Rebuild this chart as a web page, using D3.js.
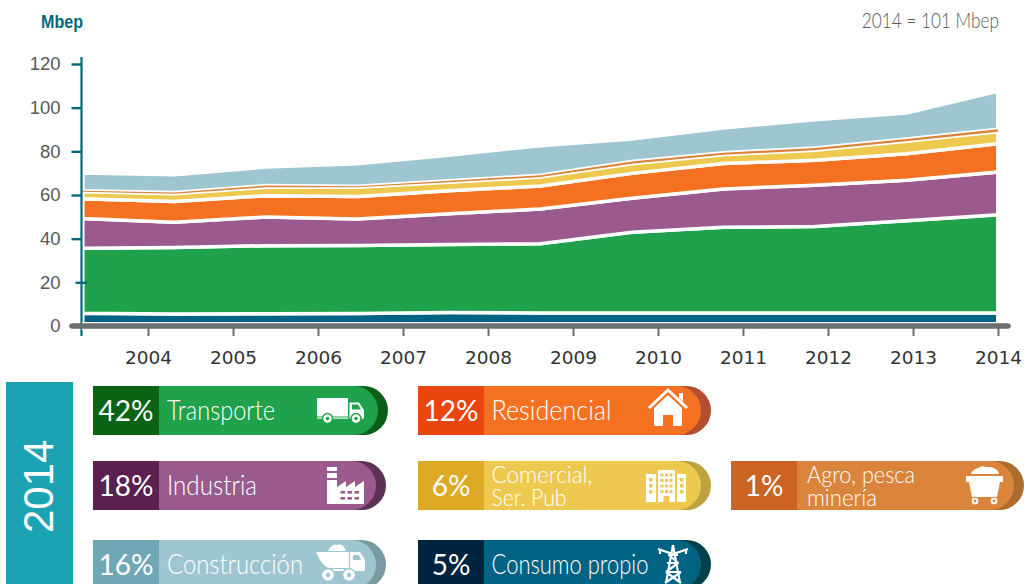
<!DOCTYPE html>
<html lang="es">
<head>
<meta charset="utf-8">
<title>Consumo final de energía por sector</title>
<script src="https://cdn.jsdelivr.net/npm/d3@7"></script>
<style>
  html, body { margin: 0; background: #fff; }
  svg { display: block; }
  .axis--y text { font-family: "Liberation Sans", sans-serif; font-size: 18.5px; }
  .axis--x text { font-family: "DejaVu Sans", sans-serif; font-size: 18.5px; }
  .legend-label { font-family: Lato, sans-serif; font-weight: 300; fill: #fff; }
  .legend-share { font-family: Lato, sans-serif; font-weight: 400; font-size: 28px; fill: #fff; text-anchor: middle; }
</style>
</head>
<body>
<div id="chart"></div>
<script>
// Final energy use by sector, stacked from the bottom of the chart upward.
const years = [2004, 2005, 2006, 2007, 2008, 2009, 2010, 2011, 2012, 2013, 2014];
const consumoPropio = [5.8, 5.5, 5.6, 5.7, 6.2, 6.0, 5.9, 5.9, 5.9, 5.9, 5.9];
const transporte = [29.8, 30.4, 31.2, 31.2, 31.1, 31.7, 37.0, 39.3, 39.7, 42.3, 45.0];
const industria = [13.6, 11.6, 13.1, 12.1, 14.1, 15.9, 15.6, 17.6, 18.9, 18.6, 19.6];
const residencial = [9.1, 9.5, 9.8, 10.3, 10.6, 10.5, 11.4, 11.6, 11.4, 12.1, 13.0];
const comercial = [3.2, 3.6, 3.8, 4.2, 3.8, 4.1, 4.4, 4.0, 4.6, 5.7, 5.5];
const agro = [0.5, 0.5, 0.8, 0.5, 0.7, 0.9, 1.0, 1.0, 1.0, 1.0, 1.1];
const construccion = [8.1, 8.2, 8.5, 10.3, 11.7, 13.5, 10.4, 11.3, 13.0, 12.0, 17.4];
const yTicks = [0, 20, 40, 60, 80, 100, 120];

const seriesKeys = ['consumo', 'transporte', 'industria', 'residencial', 'comercial', 'agro', 'construccion'];
const seriesValues = [consumoPropio, transporte, industria, residencial, comercial, agro, construccion];
const seriesColors = ['#006384', '#20a14b', '#9a5a8e', '#f57122', '#edc94f', '#da843c', '#9ec6d1'];

// Legend, in reading order (column by column).
const legendKeys = ['transporte', 'industria', 'construccion', 'residencial', 'comercial', 'consumo', 'agro'];
const legendLabels = [['Transporte'], ['Industria'], ['Construcción'], ['Residencial'], ['Comercial,', 'Ser. Pub'], ['Consumo propio'], ['Agro, pesca', 'minería']];
const legendShares = ['42%', '18%', '16%', '12%', '6%', '5%', '1%'];
const legendDark = ['#0a6414', '#5a2150', '#6fa7b5', '#e8450f', '#deaa26', '#00233f', '#cb6423'];
const legendRim = ['#0a5e1a', '#5d3156', '#789aa3', '#b14f30', '#bda33f', '#054149', '#ac6c2e'];

const width = 1024, height = 584;
const svg = d3.select('#chart').append('svg').attr('width', width).attr('height', height);

const table = years.map((year, i) => {
  const row = {year};
  seriesKeys.forEach((key, k) => { row[key] = seriesValues[k][i]; });
  return row;
});
const stacked = d3.stack().keys(seriesKeys)(table);

// The areas and the year ticks do not line up in the original, so each has its own scale.
const xArea = d3.scalePoint().domain(years).range([82.8, 997.8]);
const xTick = d3.scalePoint().domain(years).range([148, 998]);
const y = d3.scaleLinear().domain([0, 120]).range([326, 64]);
const color = d3.scaleOrdinal(seriesKeys, seriesColors);

const area = d3.area()
  .x(d => xArea(d.data.year))
  .y0(d => y(d[0]))
  .y1(d => y(d[1]));

// White outlines make the gaps between the bands.
svg.append('g').selectAll('path')
  .data(stacked.filter(d => d.key !== 'agro'))
  .join('path')
  .attr('d', area)
  .attr('fill', d => color(d.key))
  .attr('stroke', '#fff')
  .attr('stroke-width', 3.5);

// The agro band is too thin for an outline, it goes on top without one.
svg.append('path')
  .datum(stacked.find(d => d.key === 'agro'))
  .attr('d', area)
  .attr('fill', color('agro'));

// Y axis
const yAxis = svg.append('g').attr('class', 'axis axis--y')
  .attr('transform', 'translate(81.5,0)')
  .call(d3.axisLeft(y).tickValues(yTicks).tickSize(10).tickPadding(11).tickSizeOuter(0));
yAxis.select('.domain').remove();
yAxis.selectAll('line').attr('stroke', '#006b7b').attr('stroke-width', 2.4);
yAxis.selectAll('text').attr('fill', '#58595b');
// The 20 tick sits a little to the right in the original.
yAxis.selectAll('.tick').filter(d => d === 20).select('line').attr('x1', -6).attr('x2', 5.5);
svg.append('line').attr('x1', 81.5).attr('x2', 81.5).attr('y1', 57).attr('y2', 336)
  .attr('stroke', '#006b7b').attr('stroke-width', 2.2);

// X axis
svg.append('line').attr('x1', 82).attr('x2', 1000).attr('y1', 326).attr('y2', 326)
  .attr('stroke', '#fff').attr('stroke-width', 8);
svg.append('line').attr('x1', 72).attr('x2', 1008).attr('y1', 326).attr('y2', 326)
  .attr('stroke', '#6d6e71').attr('stroke-width', 5.5).attr('stroke-linecap', 'round');
const xAxis = svg.append('g').attr('class', 'axis axis--x')
  .attr('transform', 'translate(0,326)')
  .call(d3.axisBottom(xTick).tickSize(10).tickPadding(15).tickSizeOuter(0));
xAxis.select('.domain').remove();
xAxis.selectAll('line').attr('stroke', '#6d6e71').attr('stroke-width', 2);
xAxis.selectAll('text').attr('fill', '#333');

// Header notes
svg.append('text').attr('transform', 'translate(41,28) scale(0.92,1)')
  .attr('font-family', '"Liberation Sans", sans-serif').attr('font-weight', 700).attr('font-size', 17.5)
  .attr('fill', '#006b7b').text('Mbep');
svg.append('text').attr('transform', 'translate(999,28) scale(0.82,1)').attr('text-anchor', 'end')
  .attr('font-family', 'Lato, sans-serif').attr('font-weight', 300).attr('font-size', 21)
  .attr('fill', '#58595b').text('2014 = 101 Mbep');

// Year banner
svg.append('rect').attr('x', 6).attr('y', 382).attr('width', 67).attr('height', 202).attr('fill', '#1ca3b3');
svg.append('text').attr('transform', 'translate(53,533) rotate(-90)')
  .attr('font-family', '"Liberation Sans", sans-serif').attr('font-size', 42).attr('fill', '#fff').text('2014');

// Pill slots: [left, top, right end, label inset], same order as the legend arrays.
const slots = [[93, 386, 388, 74], [93, 461, 386, 74], [93, 540, 386, 74], [418, 386, 711, 73.5], [418, 461, 711, 73.5], [418, 540, 711, 73.5], [731, 461, 1024, 76]];
// Drawn width of each label line, the original type is narrower than anything installed.
const labelWidths = [[108], [90], [136], [120], [101, 75], [157], [108, 70]];
const pillH = 49, darkW = 66, rimW = 10;

function pillPath(x0, x1, top) {
  const r = pillH / 2;
  return `M${x0},${top}H${x1 - r}A${r},${r} 0 0 1 ${x1 - r},${top + pillH}H${x0}Z`;
}

const pills = svg.append('g').selectAll('g')
  .data(legendKeys)
  .join('g')
  .attr('class', 'pill');

pills.append('path').attr('d', (d, i) => pillPath(slots[i][0] + darkW, slots[i][2], slots[i][1])).attr('fill', (d, i) => legendRim[i]);
pills.append('path').attr('d', (d, i) => pillPath(slots[i][0] + darkW, slots[i][2] - rimW, slots[i][1])).attr('fill', d => color(d));
pills.append('rect')
  .attr('x', (d, i) => slots[i][0]).attr('y', (d, i) => slots[i][1])
  .attr('width', darkW).attr('height', pillH)
  .attr('fill', (d, i) => legendDark[i]);
pills.append('text').attr('class', 'legend-share')
  .attr('x', (d, i) => slots[i][0] + darkW / 2)
  .attr('y', (d, i) => slots[i][1] + 34.5)
  .text((d, i) => legendShares[i]);

pills.each(function(d, i) {
  const lines = legendLabels[i];
  const x = slots[i][0] + slots[i][3], top = slots[i][1];
  lines.forEach((line, n) => {
    const base = lines.length === 1 ? top + 34 : top + 21.5 + n * 23.5;
    d3.select(this).append('text').attr('class', 'legend-label')
      .attr('x', x).attr('y', base)
      .attr('font-size', lines.length === 1 ? 28 : 23.5)
      .attr('textLength', labelWidths[i][n]).attr('lengthAdjust', 'spacingAndGlyphs')
      .text(line);
  });
});

// Icons, white shapes with details in the colour of the pill.
const icons = {
  transporte(g, c) {
    g.attr('transform', 'translate(317,398)');
    g.append('rect').attr('width', 31).attr('height', 18.5).attr('fill', '#fff');
    g.append('path').attr('d', 'M32.5,4.5H42L47,12V20.5H32.5Z').attr('fill', '#fff');
    g.append('path').attr('d', 'M35,6.5H41L44,11.5H35Z').attr('fill', c);
    g.append('rect').attr('y', 19.5).attr('width', 31).attr('height', 1.2).attr('fill', '#fff');
    [10.5, 39].forEach(cx => {
      g.append('circle').attr('cx', cx).attr('cy', 20.5).attr('r', 5).attr('fill', '#fff').attr('stroke', c).attr('stroke-width', 1.4);
      g.append('circle').attr('cx', cx).attr('cy', 20.5).attr('r', 1.8).attr('fill', c);
    });
  },
  industria(g, c) {
    g.attr('transform', 'translate(327,467)');
    g.append('path').attr('d', 'M0,0H10V37H0Z').attr('fill', '#fff');
    g.append('rect').attr('y', 4).attr('width', 10).attr('height', 2).attr('fill', c);
    g.append('rect').attr('y', 11).attr('width', 10).attr('height', 2).attr('fill', c);
    g.append('path').attr('d', 'M10,20L19,14V20L28,14V20L37,14V37H10Z').attr('fill', '#fff');
    [13.5, 20.5, 27.5].forEach(x => {
      [24, 30].forEach(yy => g.append('rect').attr('x', x).attr('y', yy).attr('width', 4.5).attr('height', 2.6).attr('fill', c));
    });
  },
  construccion(g, c) {
    g.attr('transform', 'translate(316,543)');
    g.append('path').attr('d', 'M12,8C14,3 18,1 21,2C24,0 28,2 30,8Z').attr('fill', '#fff');
    g.append('path').attr('d', 'M0,9H33V25H14C8,25 3,16 0,9Z').attr('fill', '#fff');
    g.append('path').attr('d', 'M34,9H44L49,17V28H34Z').attr('fill', '#fff');
    g.append('path').attr('d', 'M37,12H43L45,17H37Z').attr('fill', c);
    g.append('rect').attr('x', 14).attr('y', 26).attr('width', 34).attr('height', 2).attr('fill', '#fff');
    [12, 33].forEach(cx => {
      g.append('circle').attr('cx', cx).attr('cy', 32).attr('r', 6.5).attr('fill', '#fff').attr('stroke', c).attr('stroke-width', 1.4);
      g.append('circle').attr('cx', cx).attr('cy', 32).attr('r', 2.2).attr('fill', c);
    });
  },
  residencial(g, c) {
    g.attr('transform', 'translate(649,390)');
    g.append('path').attr('d', 'M0,18L19,0L38,18').attr('fill', 'none').attr('stroke', '#fff').attr('stroke-width', 3);
    g.append('path').attr('d', 'M30,3H34V12L30,8Z').attr('fill', '#fff');
    g.append('path').attr('d', 'M19,5L33,18V36H24V25H14V36H5V18Z').attr('fill', '#fff');
  },
  comercial(g, c) {
    g.attr('transform', 'translate(646,470)');
    g.append('rect').attr('x', 0).attr('y', 4).attr('width', 10).attr('height', 28).attr('fill', '#fff');
    g.append('rect').attr('x', 12).attr('y', 0).attr('width', 17).attr('height', 32).attr('fill', '#fff');
    g.append('rect').attr('x', 31).attr('y', 4).attr('width', 9).attr('height', 28).attr('fill', '#fff');
    [3, 34].forEach(x => {
      [8, 14, 20].forEach(yy => g.append('rect').attr('x', x).attr('y', yy).attr('width', 3.5).attr('height', 3.5).attr('fill', c));
    });
    [14.5, 19, 23.5].forEach(x => {
      [3.5, 9, 14.5, 20].forEach(yy => g.append('rect').attr('x', x).attr('y', yy).attr('width', 3).attr('height', 3).attr('fill', c));
    });
    g.append('rect').attr('x', 17.5).attr('y', 26).attr('width', 6).attr('height', 6).attr('fill', c);
  },
  consumo(g) {
    g.attr('transform', 'translate(657,545)');
    const tower = 'M16,0L9,38M16,0L23,38M11,10H21M10,18H22M9,27H24M12,10L21,18M21,18L9,27M9,27L24,38M24,27L8,38M1,4L16,9L31,4M3,4V9M29,4V9';
    g.append('path').attr('d', tower).attr('fill', 'none').attr('stroke', '#fff').attr('stroke-width', 2.2);
  },
  agro(g, c) {
    g.attr('transform', 'translate(966,465)');
    g.append('path').attr('d', 'M5,9C7,3 12,4 14,2C17,0 20,3 23,2C27,2 32,4 33,9Z').attr('fill', '#fff');
    g.append('path').attr('d', 'M0,11H37V17H34L31,32H6L3,17H0Z').attr('fill', '#fff');
    [9, 28].forEach(cx => {
      g.append('circle').attr('cx', cx).attr('cy', 36).attr('r', 4).attr('fill', '#fff').attr('stroke', c).attr('stroke-width', 1);
      g.append('circle').attr('cx', cx).attr('cy', 36).attr('r', 1.4).attr('fill', c);
    });
  }
};

pills.append('g').attr('class', 'icon').each(function(d) {
  icons[d](d3.select(this), color(d));
});
</script>
</body>
</html>
